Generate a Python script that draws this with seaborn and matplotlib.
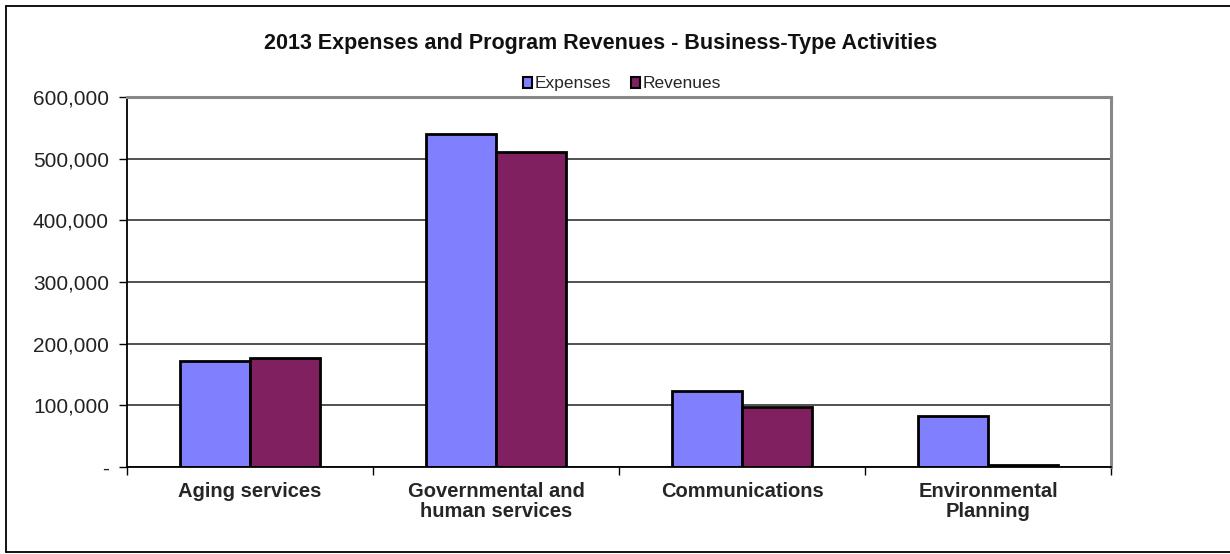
import matplotlib
matplotlib.use("Agg")
import matplotlib.pyplot as plt
from matplotlib.patches import Patch
from matplotlib.lines import Line2D
from matplotlib.ticker import FuncFormatter, FixedLocator
import seaborn as sns
import pandas as pd

categories = ["Aging services", "Governmental and\nhuman services",
              "Communications", "Environmental\nPlanning"]
expenses = [172000, 540000, 124000, 82000]
revenues = [177000, 510000, 98000, 2500]
series_names = ["Expenses", "Revenues"]
series_colors = ["#8080FF", "#802060"]
y_ticks = [0, 100000, 200000, 300000, 400000, 500000, 600000]

df = pd.DataFrame({
    "category": categories * 2,
    "series": [series_names[0]] * len(categories) + [series_names[1]] * len(categories),
    "value": expenses + revenues,
})

sns.set_theme(style="white")
plt.rcParams["font.family"] = ["Liberation Sans", "DejaVu Sans"]

fig = plt.figure(figsize=(12.3, 5.54), dpi=100)
ax = fig.add_axes([127 / 1230, 1 - 467 / 554, (1111 - 127) / 1230, (467 - 97) / 554])

sns.barplot(data=df, x="category", y="value", hue="series", order=categories,
            hue_order=series_names, palette=series_colors, width=0.57,
            edgecolor="black", linewidth=2, saturation=1, legend=False, ax=ax)

ax.set_ylim(0, 600000)
ax.set_xlim(-0.5, len(categories) - 0.5)
ax.yaxis.set_major_locator(FixedLocator(y_ticks))
ax.yaxis.set_major_formatter(FuncFormatter(lambda v, p: "-" if v == 0 else f"{int(v):,}"))
ax.grid(axis="y", color="#222222", linewidth=1.1)
ax.set_axisbelow(True)
ax.set_xlabel("")
ax.set_ylabel("")

ax.tick_params(axis="y", which="major", length=6, width=1, color="black",
               labelsize=15, labelcolor="#222222", pad=7, left=True, direction="out")
ax.set_xticks(range(len(categories)))
ax.set_xticklabels(categories, fontsize=14.5, fontweight="bold", linespacing=1.05)
ax.tick_params(axis="x", which="major", length=0, pad=11)
ax.set_xticks([i - 0.5 for i in range(len(categories) + 1)], minor=True)
ax.tick_params(axis="x", which="minor", length=6, width=1, color="black", bottom=True, direction="out")

for side in ["left", "bottom"]:
    ax.spines[side].set_color("black")
    ax.spines[side].set_linewidth(1.3)
for side in ["top", "right"]:
    ax.spines[side].set_color("#888888")
    ax.spines[side].set_linewidth(2.2)

handles = [Patch(facecolor=c, edgecolor="black", linewidth=1.5, label=n)
           for n, c in zip(series_names, series_colors)]
fig.legend(handles=handles, loc="center", bbox_to_anchor=(622 / 1230, 1 - 84 / 554),
           ncol=2, frameon=False, fontsize=12.5, handlelength=0.55, handleheight=0.55,
           handletextpad=0.15, columnspacing=1.1, borderaxespad=0)

fig.text(601 / 1230, 1 - 44 / 554,
         "2013 Expenses and Program Revenues - Business-Type Activities",
         ha="center", va="center", fontsize=15.5, fontweight="bold", color="#111111")

# outer chart frame (open on the right)
for xs, ys in [([6, 1232], [6, 6]), ([6, 6], [6, 552]), ([6, 1232], [552, 552])]:
    fig.add_artist(Line2D([x / 1230 for x in xs], [1 - y / 554 for y in ys],
                          color="black", linewidth=1.3, transform=fig.transFigure))

fig.savefig("out.png", dpi=100)
